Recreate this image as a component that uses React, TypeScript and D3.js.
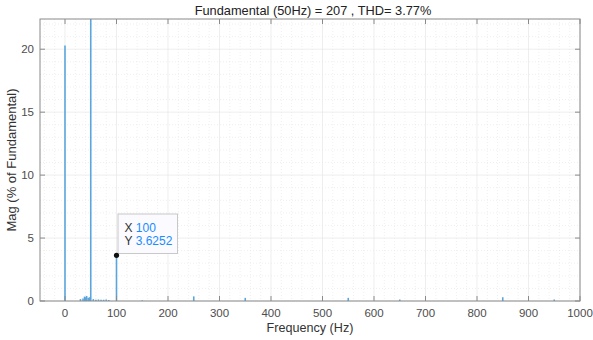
import React from "react";
import * as d3 from "d3";

const freqs = [0, 30, 35, 38, 40, 42, 45, 48, 50, 55, 60, 65, 70, 75, 80, 85, 100, 150, 250, 350, 550, 650, 850, 950];
const mags = [20.3, 0.15, 0.2, 0.35, 0.3, 0.4, 0.25, 0.3, 100, 0.15, 0.1, 0.12, 0.1, 0.1, 0.12, 0.08, 3.6252, 0.05, 0.37, 0.25, 0.25, 0.12, 0.3, 0.12];
const xTicks = [0, 100, 200, 300, 400, 500, 600, 700, 800, 900, 1000];
const yTicks = [0, 5, 10, 15, 20];
const titleText = "Fundamental (50Hz) = 207 , THD= 3.77%";
const xLabel = "Frequency (Hz)";
const yLabel = "Mag (% of Fundamental)";
const tipX = 100;
const tipY = 3.6252;

const W = 593, H = 340;
const L = 40, R = 580, T = 19, B = 301;
const FONT = "Liberation Sans, Arial, Helvetica, sans-serif";

export default function App() {
  const x = d3.scaleLinear().domain([-50, 1000]).range([L - 0.75, R]);
  const y = d3.scaleLinear().domain([0, 22.4]).range([B, T]);
  const xMinor = d3.range(-40, 1000, 20).filter((v) => v % 100 !== 0);
  const yMinor = d3.range(1, 22.4, 1).filter((v) => v % 5 !== 0);
  const axisC = "#8a8a8a";
  const tickC = "#4d4d4d";
  const px = x(tipX), py = y(tipY);
  return (
    <svg width={W} height={H} style={{ position: "absolute", left: 0, top: 0, background: "#fff" }} fontFamily={FONT}>
      <rect x={0} y={0} width={W} height={H} fill="#fff" />
      <defs>
        <clipPath id="plotclip">
          <rect x={L} y={T} width={R - L} height={B - T} />
        </clipPath>
      </defs>
      {/* minor grid */}
      {xMinor.map((v) => (
        <line key={"xm" + v} x1={x(v)} x2={x(v)} y1={T} y2={B} stroke="#e4e4e4" strokeWidth={0.6} strokeDasharray="1,2" />
      ))}
      {yMinor.map((v) => (
        <line key={"ym" + v} x1={L} x2={R} y1={y(v)} y2={y(v)} stroke="#e4e4e4" strokeWidth={0.6} strokeDasharray="1,2" />
      ))}
      {/* major grid */}
      {xTicks.map((v) => (
        <line key={"xg" + v} x1={x(v)} x2={x(v)} y1={T} y2={B} stroke="#e6e6e6" strokeWidth={0.7} />
      ))}
      {yTicks.map((v) => (
        <line key={"yg" + v} x1={L} x2={R} y1={y(v)} y2={y(v)} stroke="#e6e6e6" strokeWidth={0.7} />
      ))}
      {/* bars */}
      <g clipPath="url(#plotclip)">
        {freqs.map((f, i) => (
          <line key={"b" + i} x1={x(f)} x2={x(f)} y1={y(0)} y2={y(mags[i])} stroke="#5aa6dc" strokeWidth={1.6} />
        ))}
      </g>
      {/* axes box */}
      <rect x={L} y={T} width={R - L} height={B - T} fill="none" stroke={axisC} strokeWidth={1} />
      {/* ticks */}
      {xTicks.map((v) => (
        <g key={"xt" + v}>
          <line x1={x(v)} x2={x(v)} y1={B} y2={B - 5} stroke={axisC} />
          <line x1={x(v)} x2={x(v)} y1={T} y2={T + 5} stroke={axisC} />
          <text x={x(v)} y={B + 16} textAnchor="middle" fontSize={11.5} fill={tickC}>{v}</text>
        </g>
      ))}
      {yTicks.map((v) => (
        <g key={"yt" + v}>
          <line x1={L} x2={L + 5} y1={y(v)} y2={y(v)} stroke={axisC} />
          <line x1={R} x2={R - 5} y1={y(v)} y2={y(v)} stroke={axisC} />
          <text x={L - 6} y={y(v) + 4} textAnchor="end" fontSize={11.5} fill={tickC}>{v}</text>
        </g>
      ))}
      {/* labels */}
      <text x={(L + R) / 2 + 3} y={15} textAnchor="middle" fontSize={12.8} fill="#222">{titleText}</text>
      <text x={(L + R) / 2} y={332} textAnchor="middle" fontSize={12.6} fill="#333">{xLabel}</text>
      <text transform={`translate(16,${(T + B) / 2}) rotate(-90)`} textAnchor="middle" fontSize={13} fill="#333">{yLabel}</text>
      {/* datatip */}
      <rect x={px + 1.5} y={214} width={59.5} height={39.5} fill="#fafaff" stroke="#c8c8c8" strokeWidth={1} />
      <text x={px + 8} y={232} fontSize={12} fill="#333">X <tspan fill="#1a8cff">{tipX}</tspan></text>
      <text x={px + 8} y={245} fontSize={12} fill="#333">Y <tspan fill="#1a8cff">{tipY}</tspan></text>
      <circle cx={px} cy={py} r={2.6} fill="#111" />
    </svg>
  );
}
